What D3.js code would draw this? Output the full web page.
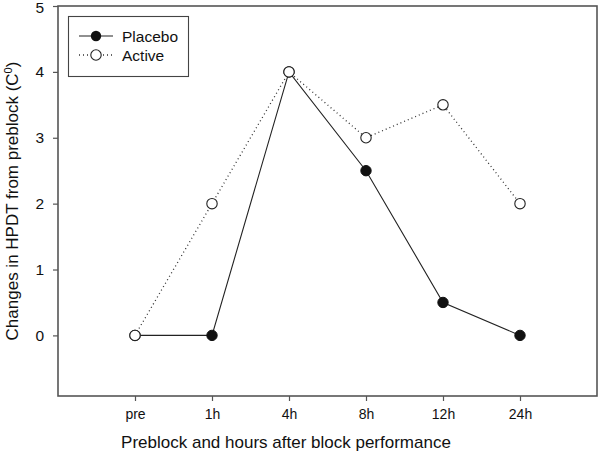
<!DOCTYPE html>
<html><head><meta charset="utf-8">
<script src="https://cdn.jsdelivr.net/npm/d3@7"></script>
<style>body{margin:0;background:#fff}svg{display:block}text{font-family:Arial,"Liberation Sans",sans-serif;fill:#111}</style>
</head><body><svg id="c" width="600" height="459"></svg>
<script>
const categories = ["pre","1h","4h","8h","12h","24h"];
const placebo = [0,0,4,2.5,0.5,0];
const active = [0,2,4,3,3.5,2];
const yTicks = [0,1,2,3,4,5];
const seriesNames = ["Placebo","Active"];

const svg = d3.select("#c");
const L=58,R=597,T=6,B=396;
const x = d3.scaleLinear().domain([-1,6]).range([L,R]);
const y = d3.scaleLinear().domain([-0.92,5]).range([B,T]);

const axisCol="#555";
const xa = svg.append("g").attr("transform",`translate(0,${B})`)
  .call(d3.axisBottom(x).tickValues(d3.range(categories.length)).tickFormat(i=>categories[i]).tickSize(5).tickSizeOuter(0).tickPadding(8));
xa.select(".domain").remove();
xa.selectAll("line").attr("stroke",axisCol).attr("stroke-width",1.2);
xa.selectAll("text").attr("font-size",14).attr("fill","#111");
const ya = svg.append("g").attr("transform",`translate(${L},0)`)
  .call(d3.axisLeft(y).tickValues(yTicks).tickFormat(d3.format("d")).tickSize(5).tickSizeOuter(0).tickPadding(9));
ya.select(".domain").remove();
ya.selectAll("line").attr("stroke",axisCol).attr("stroke-width",1.2);
ya.selectAll("text").attr("font-size",15.5).attr("fill","#111");
ya.selectAll("text").filter(d=>d===5).attr("dy","0.42em");

svg.append("rect").attr("x",L).attr("y",T).attr("width",R-L).attr("height",B-T)
  .attr("fill","none").attr("stroke",axisCol).attr("stroke-width",1.6);

const line = d3.line().x((d,i)=>x(i)).y(d=>y(d));
svg.append("path").datum(placebo).attr("d",line).attr("fill","none").attr("stroke","#222").attr("stroke-width",1.1);
svg.append("path").datum(active).attr("d",line).attr("fill","none").attr("stroke","#333").attr("stroke-width",1.3).attr("stroke-dasharray","1,3");
svg.append("g").selectAll("circle").data(placebo).join("circle")
  .attr("cx",(d,i)=>x(i)).attr("cy",d=>y(d)).attr("r",5.2).attr("fill","#111").attr("stroke","#111");
svg.append("g").selectAll("circle").data(active).join("circle")
  .attr("cx",(d,i)=>x(i)).attr("cy",d=>y(d)).attr("r",5.2).attr("fill","#fff").attr("stroke","#222").attr("stroke-width",1.1);

svg.append("rect").attr("x",68.5).attr("y",16.5).attr("width",120).attr("height",60)
  .attr("fill","#fff").attr("stroke","#444").attr("stroke-width",1.1);
svg.append("line").attr("x1",79).attr("x2",113).attr("y1",36).attr("y2",36).attr("stroke","#222").attr("stroke-width",1.1);
svg.append("circle").attr("cx",96).attr("cy",36).attr("r",5.2).attr("fill","#111");
svg.append("line").attr("x1",79).attr("x2",113).attr("y1",55).attr("y2",55).attr("stroke","#333").attr("stroke-width",1.3).attr("stroke-dasharray","1,3");
svg.append("circle").attr("cx",96).attr("cy",55).attr("r",5.2).attr("fill","#fff").attr("stroke","#222").attr("stroke-width",1.1);
svg.append("text").attr("x",122).attr("y",41.5).attr("font-size",15.5).text(seriesNames[0]);
svg.append("text").attr("x",122).attr("y",60.5).attr("font-size",15.5).text(seriesNames[1]);

svg.append("text").attr("x",286).attr("y",448).attr("text-anchor","middle").attr("font-size",17)
  .text("Preblock and hours after block performance");
const yt = svg.append("text").attr("transform",`translate(18,${(T+B)/2}) rotate(-90)`).attr("text-anchor","middle").attr("font-size",17);
yt.append("tspan").text("Changes in HPDT from preblock (C");
yt.append("tspan").attr("baseline-shift","super").attr("font-size",11).text("0");
yt.append("tspan").text(")");
</script></body></html>
